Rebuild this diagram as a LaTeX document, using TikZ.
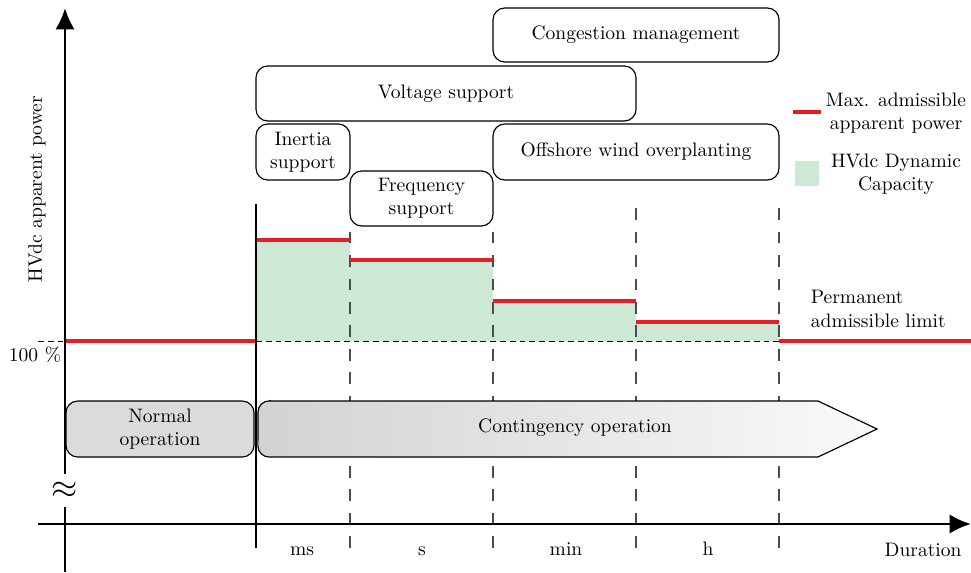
\documentclass[tikz,border=0pt]{standalone}
\usetikzlibrary{positioning}
\usetikzlibrary{arrows.meta}
\definecolor{maxred}{RGB}{228,30,38}
\definecolor{dyncap}{RGB}{206,232,214}
\tikzset{
    boxsize/.style 2 args = {minimum width=#1*0.018cm, minimum height=#2*0.018cm},
    taskbox/.style = {rectangle, rounded corners=6pt, draw, semithick, fill=white, inner sep=0pt, align=center},
    opbox/.style = {taskbox, fill=gray!28},
    maxline/.style = {maxred, line width=1.6pt},
    timediv/.style = {gray!60!black, semithick, dash pattern=on 6pt off 6pt},
    axisline/.style = {line width=1.5pt, -{Latex[length=11pt,width=10pt]}}}

\begin{document}
\begin{tikzpicture}[x=0.018cm, y=-0.018cm]
    \useasboundingbox (0,0) rectangle (971,572);
    % dynamic capacity above the permanent limit
    \fill[dyncap] (256,341) |- (350,240) |- (493,260) |- (636,301) |- (779,322) |- cycle;
    % time scale divisions
    \foreach \xs/\ys in {350/226, 493/226, 636/204, 779/204}
        \draw[timediv] (\xs,548) -- (\xs,\ys);
    \draw[densely dashed] (38,341) -- (65,341);
    \draw[densely dashed] (256,341) -- (779,341);
    % max. admissible apparent power
    \draw[maxline] (65,341) -- (256,341);
    \draw[maxline] (256,240) -- (350,240);
    \draw[maxline] (350,260) -- (493,260);
    \draw[maxline] (493,301) -- (636,301);
    \draw[maxline] (636,322) -- (779,322);
    \draw[maxline] (779,341) -- (971,341);

    % services
    \node[taskbox, boxsize={286}{54}] (congestion) at (636,35) {Congestion management};
    \node[taskbox, boxsize={380}{55}] (voltage) at (446,93.5) {Voltage support};
    \node[taskbox, boxsize={94}{56}] (inertia) at (303,152) {Inertia\\support};
    \node[taskbox, boxsize={286}{56}] (offshore) at (636,152) {Offshore wind overplanting};
    \node[taskbox, boxsize={143}{55}] (frequency) at (421.5,198.5) {Frequency\\support};

    % operation modes
    \node[opbox, boxsize={188}{56}] (normal) at (160,429) {Normal\\operation};
    \draw[semithick, left color=gray!35, right color=gray!4]
        (269,401) -- (818,401) -- (877,429) -- (818,457) -- (269,457)
        arc[start angle=270, end angle=180, radius=0.2cm] -- (258,412)
        arc[start angle=180, end angle=90, radius=0.2cm] -- cycle;
    \node (contingency) at (575,428) {Contingency operation};
    \draw[semithick] (256,204) -- (256,548);

    % axes
    \coordinate (yfoot) at (65,572);
    \coordinate (ylow) at (65,507);
    \coordinate (yhigh) at (65,474);
    \coordinate (ytip) at (65,8);
    \coordinate (xfoot) at (38,524);
    \coordinate (xtip) at (971,524);
    \node (brk) at (65,490) {\LARGE$\approx$};
    \draw[line width=1.5pt] (yfoot) -- (ylow);
    \draw[axisline] (yhigh) -- (ytip);
    \draw[axisline] (xfoot) -- (xtip);
    \node[rotate=90] (ylabel) at (37,189) {HVdc apparent power};
    \node (pct) at (35,355) {100~\%};
    \foreach \t/\xc in {ms/302, s/422, min/566, h/708}
        \node[anchor=base] (lbl-\t) at (\xc,555) {\t};
    \node[anchor=base] (duration) at (923,556) {Duration};

    % legend
    \coordinate (redA) at (793,112);
    \coordinate (redB) at (821,112);
    \draw[maxline] (redA) -- (redB);
    \node[align=center] (maxlabel) at (896,113) {Max. admissible\\apparent power};
    \fill[dyncap] (795,161) rectangle (819,186);
    \node[align=center] (caplabel) at (896,174) {HVdc Dynamic\\Capacity};
    \node[align=left, anchor=west] (permlabel) at (804,309) {Permanent\\admissible limit};
\end{tikzpicture}
\end{document}
